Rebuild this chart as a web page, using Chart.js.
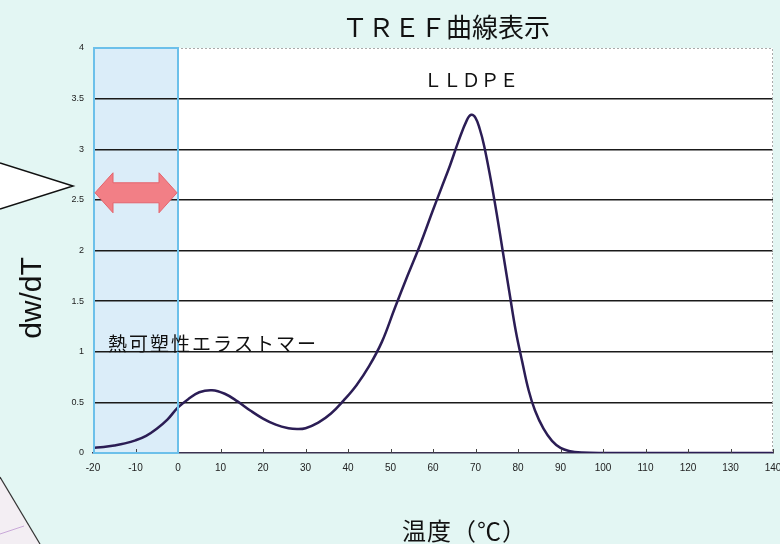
<!DOCTYPE html>
<html>
<head>
<meta charset="utf-8">
<script src="https://cdn.jsdelivr.net/npm/chart.js@4.4.1/dist/chart.umd.min.js"></script>
<style>
  html, body { margin: 0; padding: 0; background: #e3f6f3; }
  #wrap { width: 780px; height: 544px; position: relative; }
</style>
</head>
<body>
<div id="wrap"><canvas id="tref" width="780" height="544"></canvas></div>
<script>
// TREF曲線 (LLDPE)
const temps = [-20, -17.5, -15, -12.5, -10, -7.5, -5, -2.5, 0, 2.5, 5, 8, 11, 14, 17, 20, 23, 26, 28, 30,
  33, 36, 39, 42, 45, 48, 51, 54, 57, 60, 62, 64, 66, 68, 69, 70, 71, 72, 73.5, 75,
  76.5, 78, 79.5, 81, 82.5, 84, 86, 88, 90, 92, 95, 100, 110, 120, 130, 140];
const dwdt = [0.05, 0.06, 0.075, 0.095, 0.125, 0.17, 0.24, 0.33, 0.45, 0.535, 0.60, 0.62, 0.585, 0.51, 0.42, 0.34, 0.28, 0.245, 0.237, 0.245,
  0.30, 0.39, 0.52, 0.67, 0.86, 1.10, 1.43, 1.75, 2.06, 2.40, 2.62, 2.84, 3.08, 3.29, 3.34, 3.31, 3.20, 3.04, 2.72, 2.36,
  1.97, 1.58, 1.20, 0.90, 0.62, 0.42, 0.24, 0.12, 0.05, 0.02, 0.005, 0, 0, 0, 0, 0];

const xTicks = [-20, -10, 0, 10, 20, 30, 40, 50, 60, 70, 80, 90, 100, 110, 120, 130, 140];
const yTicks = [0, 0.5, 1, 1.5, 2, 2.5, 3, 3.5, 4];

const tpeRange = [-20, 0];   // 熱可塑性エラストマー 領域
const arrowLevel = 2.57;

const JP = '"Noto Sans CJK JP", "Noto Sans", sans-serif';
const TICKFONT = '"Liberation Sans", Arial, sans-serif';

// 背景・注記を描くプラグイン
const decor = {
  id: 'decor',
  beforeDraw(chart) {
    const { ctx, chartArea: a, scales: { x } } = chart;
    ctx.save();
    ctx.fillStyle = '#e3f6f3';
    ctx.fillRect(0, 0, chart.width, chart.height);
    ctx.fillStyle = '#ffffff';
    ctx.fillRect(a.left, a.top, a.right - a.left, a.bottom - a.top);
    // 青い領域
    const x0 = x.getPixelForValue(tpeRange[0]), x1 = x.getPixelForValue(tpeRange[1]);
    ctx.fillStyle = 'rgba(170, 212, 240, 0.42)';
    ctx.fillRect(x0, a.top, x1 - x0, a.bottom - a.top);
    // 吹き出し (左)
    ctx.fillStyle = '#ffffff';
    ctx.strokeStyle = '#111';
    ctx.lineWidth = 1.5;
    ctx.beginPath();
    ctx.moveTo(0, 163); ctx.lineTo(73, 186); ctx.lineTo(0, 209); ctx.closePath();
    ctx.fill();
    ctx.beginPath();
    ctx.moveTo(0, 163); ctx.lineTo(73, 186); ctx.lineTo(0, 209);
    ctx.stroke();
    // 左下の図形
    ctx.fillStyle = '#f3eef3';
    ctx.beginPath();
    ctx.moveTo(0, 477); ctx.lineTo(40, 544); ctx.lineTo(0, 544); ctx.closePath();
    ctx.fill();
    ctx.strokeStyle = '#333';
    ctx.lineWidth = 1.2;
    ctx.beginPath(); ctx.moveTo(0, 477); ctx.lineTo(40, 544); ctx.stroke();
    ctx.strokeStyle = '#c8a8d8';
    ctx.lineWidth = 1;
    ctx.beginPath(); ctx.moveTo(0, 534); ctx.lineTo(24, 526); ctx.stroke();
    ctx.restore();
  },
  afterDatasetsDraw(chart) {
    const { ctx, chartArea: a, scales: { x, y } } = chart;
    ctx.save();
    // 枠 (上・右 破線)
    ctx.strokeStyle = '#aaaaaa';
    ctx.lineWidth = 1;
    ctx.setLineDash([2, 2]);
    ctx.beginPath();
    ctx.moveTo(a.left, a.top + 0.5); ctx.lineTo(a.right - 0.5, a.top + 0.5); ctx.lineTo(a.right - 0.5, a.bottom);
    ctx.stroke();
    ctx.setLineDash([]);
    // 目盛り (内向き)
    ctx.strokeStyle = '#444';
    xTicks.forEach(v => {
      const px = Math.round(x.getPixelForValue(v)) + 0.5;
      ctx.beginPath(); ctx.moveTo(px, a.bottom); ctx.lineTo(px, a.bottom - 4); ctx.stroke();
    });
    // 青い枠
    const x0 = x.getPixelForValue(tpeRange[0]), x1 = x.getPixelForValue(tpeRange[1]);
    ctx.strokeStyle = '#6cc0ea';
    ctx.lineWidth = 2;
    ctx.strokeRect(x0 + 1, a.top, x1 - x0 - 1, a.bottom - a.top);
    // 両矢印
    const cy = y.getPixelForValue(arrowLevel);
    const head = 18, hh = 20, sh = 10;
    ctx.fillStyle = '#f27f86';
    ctx.strokeStyle = '#e4646d';
    ctx.lineWidth = 1;
    ctx.beginPath();
    ctx.moveTo(x0 + 2, cy);
    ctx.lineTo(x0 + 2 + head, cy - hh);
    ctx.lineTo(x0 + 2 + head, cy - sh);
    ctx.lineTo(x1 - 1 - head, cy - sh);
    ctx.lineTo(x1 - 1 - head, cy - hh);
    ctx.lineTo(x1 - 1, cy);
    ctx.lineTo(x1 - 1 - head, cy + hh);
    ctx.lineTo(x1 - 1 - head, cy + sh);
    ctx.lineTo(x0 + 2 + head, cy + sh);
    ctx.lineTo(x0 + 2 + head, cy + hh);
    ctx.closePath();
    ctx.fill();
    ctx.stroke();
    // 文字
    ctx.fillStyle = '#111';
    ctx.textBaseline = 'middle';
    ctx.textAlign = 'center';
    ctx.font = '26px ' + JP;
    ctx.fillText('ＴＲＥＦ曲線表示', 446, 27);
    ctx.font = '19px ' + JP;
    ctx.fillText('ＬＬＤＰＥ', 471, 80);
    ctx.textAlign = 'left';
    ctx.font = '24px ' + JP;
    ctx.letterSpacing = '1px';
    ctx.fillText('温度（℃）', 402, 531);
    ctx.font = '19px ' + JP;
    ctx.letterSpacing = '2px';
    ctx.fillText('熱可塑性エラストマー', 108, 344);
    ctx.letterSpacing = '0px';
    ctx.save();
    ctx.translate(33, 298);
    ctx.rotate(-Math.PI / 2);
    ctx.textAlign = 'center';
    ctx.font = '30px ' + TICKFONT;
    ctx.fillText('dw/dT', 0, 0);
    ctx.restore();
    ctx.restore();
  }
};

new Chart(document.getElementById('tref'), {
  type: 'line',
  data: {
    datasets: [{
      label: 'LLDPE',
      data: temps.map((t, i) => ({ x: t, y: dwdt[i] })),
      borderColor: '#2b1d55',
      borderWidth: 2.5,
      pointRadius: 0,
      tension: 0.4,
      fill: false
    }]
  },
  options: {
    responsive: false,
    animation: false,
    layout: { padding: { top: 48, right: 7, left: 0, bottom: 66 } },
    plugins: { legend: { display: false }, tooltip: { enabled: false }, title: { display: false } },
    scales: {
      x: {
        type: 'linear',
        min: -20, max: 140,
        afterBuildTicks: s => { s.ticks = xTicks.map(v => ({ value: v })); },
        afterFit: s => { s.height = 25; s.paddingLeft = 0; s.paddingRight = 0; },
        grid: { display: false, drawTicks: false },
        border: { display: true, color: '#3a3350', width: 1.5 },
        ticks: { padding: 9, color: '#222', font: { size: 10, family: TICKFONT }, maxRotation: 0, autoSkip: false }
      },
      y: {
        min: 0, max: 4,
        afterBuildTicks: s => { s.ticks = yTicks.map(v => ({ value: v })); },
        afterFit: s => { s.width = 93; },
        grid: {
          drawTicks: false,
          color: c => (c.tick && (c.tick.value === 4 || c.tick.value === 0)) ? 'rgba(0,0,0,0)' : '#1a1a1a',
          lineWidth: 1.5
        },
        border: { display: false },
        ticks: { padding: 9, color: '#222', font: { size: 9, family: TICKFONT }, callback: v => String(v) }
      }
    }
  },
  plugins: [decor]
});
</script>
</body>
</html>
